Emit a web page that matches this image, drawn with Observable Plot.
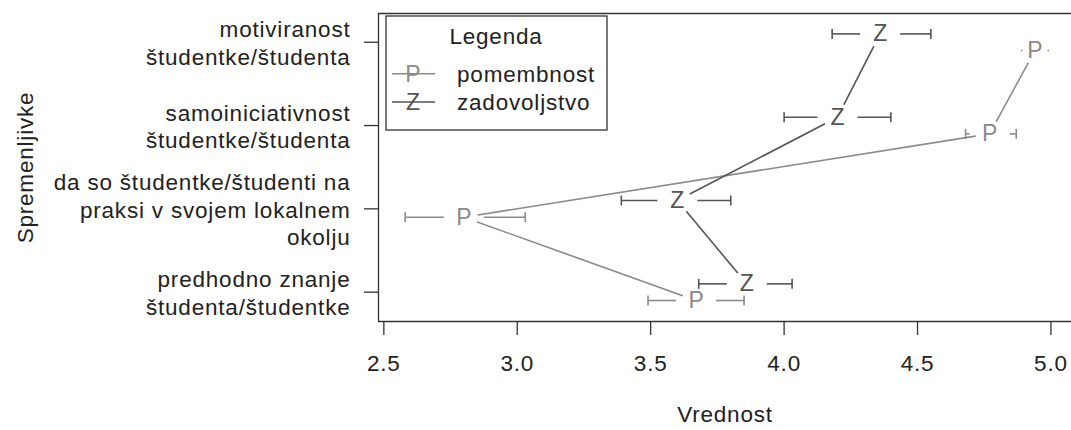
<!DOCTYPE html>
<html><head><meta charset="utf-8">
<script src="https://cdn.jsdelivr.net/npm/d3@7"></script>
<script src="https://cdn.jsdelivr.net/npm/@observablehq/plot@0.6"></script>
<style>
body{margin:0;background:#fff;}
#chart{width:1071px;height:430px;}
#chart svg text{letter-spacing:0.8px;}
#chart svg .sym text, #chart svg text.sym{letter-spacing:0;}
</style></head><body><div id="chart"></div>
<script>
// Categories (top to bottom) and their axis positions
const categories = [
  "motiviranost\nštudentke/študenta",
  "samoiniciativnost\nštudentke/študenta",
  "da so študentke/študenti na\npraksi v svojem lokalnem\nokolju",
  "predhodno znanje\nštudenta/študentke"
];
const catPos = [4, 3, 2, 1];

// Series
const seriesNames = ["pomembnost", "zadovoljstvo"];
const seriesSymbols = ["P", "Z"];
const seriesColors = ["#8a8a8a", "#555555"];
const seriesOffset = [-0.1, 0.1];

// pomembnost (P): mean and interval
const pVals = [4.94, 4.77, 2.80, 3.67];
const pLo   = [4.89, 4.68, 2.58, 3.49];
const pHi   = [4.99, 4.87, 3.03, 3.85];
// zadovoljstvo (Z): mean and interval
const zVals = [4.36, 4.20, 3.60, 3.86];
const zLo   = [4.18, 4.00, 3.39, 3.68];
const zHi   = [4.55, 4.40, 3.80, 4.03];

const xTicks = [2.5, 3.0, 3.5, 4.0, 4.5, 5.0];
const xLabel = "Vrednost";
const yLabel = "Spremenljivke";
const legendTitle = "Legenda";

const xDomain = [2.48, 5.077];
const yDomain = [0.648, 4.345];
const gap = 0.075;     // gap around symbol on interval bars (x units)
const capHalf = 0.06;  // half height of bar caps (y units)

const seriesData = [[pVals, pLo, pHi], [zVals, zLo, zHi]].map(([v, lo, hi], s) =>
  categories.map((c, i) => ({series: s, cat: c, y: catPos[i] + seriesOffset[s], v: v[i], lo: lo[i], hi: hi[i]}))
);
const catRows = categories.map((c, i) => ({label: c, pos: catPos[i]}));

const marks = [];
// frame (left, top, bottom)
marks.push(Plot.ruleY([yDomain[0], yDomain[1]], {stroke: "#333", strokeWidth: 1.3}));
marks.push(Plot.ruleX([xDomain[0]], {stroke: "#333", strokeWidth: 1.3}));
marks.push(Plot.axisX({ticks: xTicks, tickSize: 14, tickPadding: 20, tickFormat: d3.format(".1f"), fontSize: 22.5, label: null, stroke: "#333", strokeWidth: 1.3, fill: "#222"}));
marks.push(Plot.axisY({ticks: catPos, tickSize: 14, tickFormat: () => "", label: null, stroke: "#333", strokeWidth: 1.3}));
marks.push(Plot.text(catRows, {y: "pos", text: "label", frameAnchor: "left", textAnchor: "end", dx: -28, lineHeight: 1.22, fontSize: 22.5, fill: "#222"}));

// connecting lines
seriesData.forEach((rows, s) => {
  marks.push(Plot.line(rows, {x: "v", y: "y", stroke: seriesColors[s], strokeWidth: 1.6}));
});
// gaps around symbols
seriesData.forEach((rows) => {
  marks.push(Plot.dot(rows, {x: "v", y: "y", r: 14, fill: "white", stroke: "none"}));
});
// interval bars
seriesData.forEach((rows, s) => {
  const left = rows.filter(d => d.v - gap > d.lo);
  const right = rows.filter(d => d.v + gap < d.hi);
  const tiny = rows.filter(d => !(d.v - gap > d.lo));
  marks.push(Plot.link(left, {x1: "lo", x2: d => d.v - gap, y1: "y", y2: "y", stroke: seriesColors[s], strokeWidth: 1.6}));
  marks.push(Plot.link(right, {x1: d => d.v + gap, x2: "hi", y1: "y", y2: "y", stroke: seriesColors[s], strokeWidth: 1.6}));
  marks.push(Plot.link(left, {x1: "lo", x2: "lo", y1: d => d.y - capHalf, y2: d => d.y + capHalf, stroke: seriesColors[s], strokeWidth: 1.6}));
  marks.push(Plot.link(right, {x1: "hi", x2: "hi", y1: d => d.y - capHalf, y2: d => d.y + capHalf, stroke: seriesColors[s], strokeWidth: 1.6}));
  marks.push(Plot.dot(tiny, {x: "lo", y: "y", r: 0.9, fill: seriesColors[s], stroke: "none"}));
  marks.push(Plot.dot(tiny, {x: "hi", y: "y", r: 0.9, fill: seriesColors[s], stroke: "none"}));
});
// symbols
seriesData.forEach((rows, s) => {
  marks.push(Plot.text(rows, {x: "v", y: "y", text: () => seriesSymbols[s], fontSize: 23, fill: seriesColors[s], className: "sym"}));
});
// axis titles
marks.push(Plot.text([xLabel], {text: d => d, frameAnchor: "bottom", textAnchor: "middle", dy: 100, fontSize: 22.5, fill: "#222"}));
marks.push(Plot.text([yLabel], {text: d => d, frameAnchor: "left", textAnchor: "middle", dx: -353, rotate: -90, fontSize: 22.5, fill: "#222"}));

const chart = Plot.plot({
  width: 1071, height: 430,
  marginLeft: 378, marginRight: 0, marginTop: 13, marginBottom: 109,
  x: {domain: xDomain, label: null},
  y: {domain: yDomain, label: null},
  style: {fontFamily: "'Liberation Sans', Arial, sans-serif", fontSize: "22px", color: "#222", background: "white"},
  marks
});
document.getElementById("chart").append(chart);

// Legend (inside the SVG)
const svg = d3.select(chart);
const lg = svg.append("g").attr("font-family", "'Liberation Sans', Arial, sans-serif").attr("font-size", 22.5).attr("text-anchor", "start");
lg.append("rect").attr("x", 386).attr("y", 16).attr("width", 221).attr("height", 114)
  .attr("fill", "white").attr("stroke", "#333").attr("stroke-width", 1.3);
lg.append("text").attr("x", 496).attr("y", 44).attr("text-anchor", "middle").attr("fill", "#222").text(legendTitle);
seriesNames.forEach((name, s) => {
  const base = 81.7 + s * 28.3;
  lg.append("line").attr("x1", 392).attr("x2", 435).attr("y1", base - 8).attr("y2", base - 8)
    .attr("stroke", seriesColors[s]).attr("stroke-width", 1.6);
  lg.append("text").attr("class", "sym").attr("x", 413).attr("y", base).attr("text-anchor", "middle")
    .attr("font-size", 23).attr("fill", seriesColors[s]).style("letter-spacing", "0").text(seriesSymbols[s]);
  lg.append("text").attr("x", 457).attr("y", base).attr("text-anchor", "start").attr("fill", "#222").text(name);
});
</script>
</body></html>
